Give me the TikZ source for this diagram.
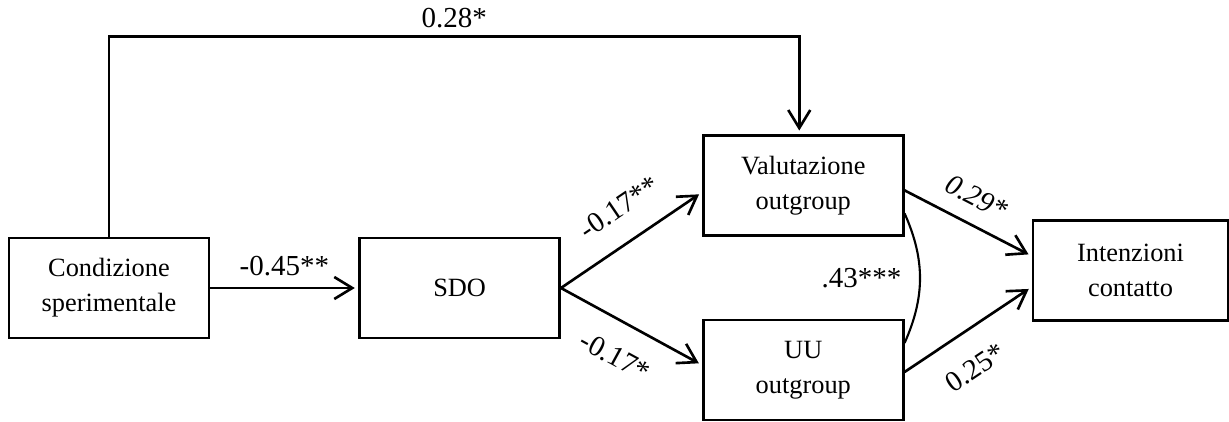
\documentclass[tikz,border=0pt]{standalone}
\usepackage{fontspec}
\setmainfont{Liberation Serif}
\usepackage{tikz}
\usetikzlibrary{positioning, calc, arrows.meta}

\begin{document}
\begin{tikzpicture}[
    font=\fontsize{15}{20}\selectfont,
    box/.style={
        draw,
        line width=1.5pt,
        minimum width=4cm,
        minimum height=2cm,
        align=center,
      },
    link/.style={
        line width=1.5pt,
        -{Straight Barb[length=3.6mm, width=4.4mm]},
        shorten >=2pt,
      },
    coef/.style={font=\fontsize{16.5}{19}\selectfont, inner sep=4pt},
  ]
  \useasboundingbox (0,0) rectangle (24.58,-8.42);

  \node [box]
  (cond) at (2.18,-5.76)
  {Condizione \\ sperimentale};

  \node [box, right=2.96cm of cond]
  (sdo)
  {SDO};

  \node [box, above right=0cm and 2.82cm of sdo]
  (val)
  {Valutazione \\ outgroup};

  \node [box, below=1.64cm of val]
  (uu)
  {UU \\ outgroup};

  \node [box, minimum width=3.9cm]
  (int) at (22.61,-5.41)
  {Intenzioni \\ contatto};

  \coordinate (top) at ($(cond.north)+(0,4)$);

  \draw[link] (cond.north) -- (top) -| ([xshift=-0.08cm]val.north)
  node[coef, pos=0.25, above] {0.28*};

  \draw[link] (cond) -- (sdo)
  node[coef, midway, above=2pt] {-0.45**};

  \draw[link] (sdo.east) -- ([yshift=-0.14cm]val.west)
  node[coef, pos=0.55, sloped, above=9pt] {-0.17**};
  \draw[link] (sdo.east) -- ([yshift=0.1cm]uu.west)
  node[coef, pos=0.5, sloped, below=9pt] {-0.17*};

  \draw[link] ([yshift=-0.1cm]val.east) -- ([yshift=0.29cm]int.west)
  node[coef, pos=0.47, sloped, above=5pt] {\textit{0.29*}};
  \draw[link] ([yshift=-0.04cm]uu.east) -- ([yshift=-0.33cm]int.west)
  node[coef, pos=0.4, sloped, below=10pt] {0.25*};

  \draw[line width=1.2pt] ([yshift=-0.56cm]val.east)
  to[bend left=24] node[coef, left=6pt] {.43***} ([yshift=0.54cm]uu.east);
\end{tikzpicture}
\end{document}
